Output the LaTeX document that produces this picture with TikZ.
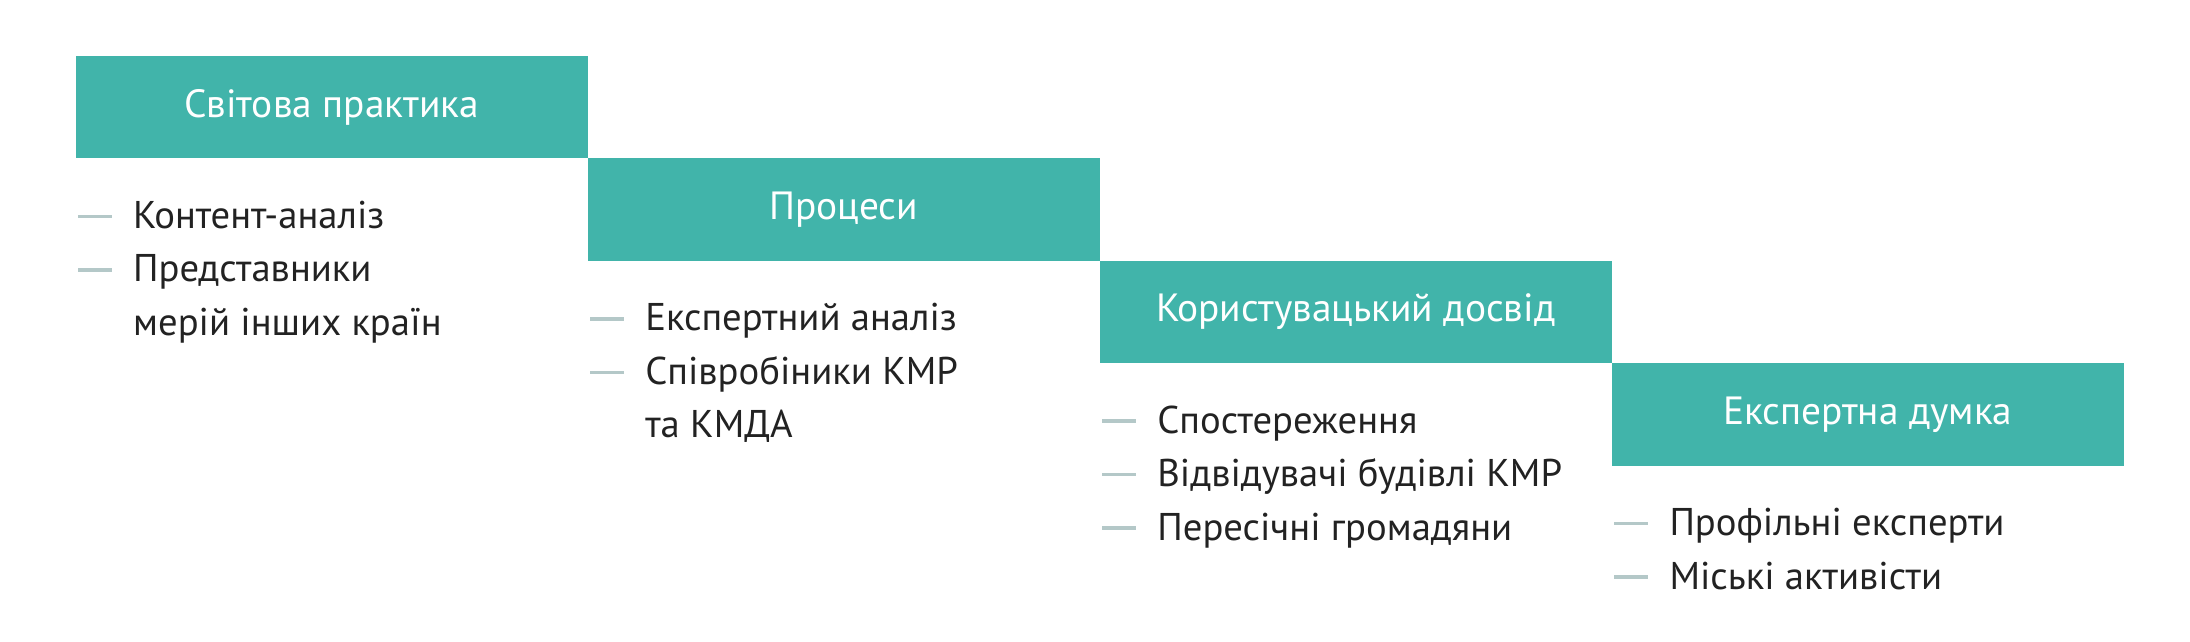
\documentclass[tikz,border=0pt]{standalone}
\usepackage{fontspec}
\setmainfont{PT Sans}
\usetikzlibrary{positioning}
\definecolor{stagegreen}{HTML}{41B4AA}
\definecolor{bargray}{HTML}{B4C8C8}
\definecolor{ink}{HTML}{222222}

\begin{document}
\begin{tikzpicture}[
	stage/.style={fill=stagegreen, text=white, minimum width=5.121cm, minimum height=1.024cm, inner sep=0pt, outer sep=0pt, anchor=north west, font=\fontsize{11.2}{13}\selectfont},
	point/.style={anchor=base west, inner sep=0pt, text=ink, font=\fontsize{11}{13}\selectfont},
	bar/.style={draw=bargray, line width=1pt}
]
	\useasboundingbox (0,0) rectangle (21.9,-6.42);
	% the four stages, going down like steps
	\node[stage] (s1) at (0.755,-0.56) {Світова практика};
	\node[stage] (s2) at (s1.south east) {Процеси};
	\node[stage] (s3) at (s2.south east) {Користувацький досвід};
	\node[stage] (s4) at (s3.south east) {Експертна думка};
	% points under each stage
	\node[point] (p11) at ([xshift=0.57cm,yshift=-0.70cm]s1.south west) {Контент-аналіз};
	\node[point] (p12) at ([yshift=-0.535cm]p11.base west) {Представники};
	\node[point] (p13) at ([yshift=-0.535cm]p12.base west) {мерій інших країн};
	\node[point] (p21) at ([xshift=0.57cm,yshift=-0.70cm]s2.south west) {Експертний аналіз};
	\node[point] (p22) at ([yshift=-0.535cm]p21.base west) {Співробіники КМР};
	\node[point] (p23) at ([yshift=-0.535cm]p22.base west) {та КМДА};
	\node[point] (p31) at ([xshift=0.57cm,yshift=-0.70cm]s3.south west) {Спостереження};
	\node[point] (p32) at ([yshift=-0.535cm]p31.base west) {Відвідувачі будівлі КМР};
	\node[point] (p33) at ([yshift=-0.535cm]p32.base west) {Пересічні громадяни};
	\node[point] (p41) at ([xshift=0.57cm,yshift=-0.70cm]s4.south west) {Профільні експерти};
	\node[point] (p42) at ([yshift=-0.535cm]p41.base west) {Міські активісти};
	\foreach \p in {p11,p12,p21,p22,p31,p32,p33,p41,p42}
		\draw[bar] ([xshift=-0.545cm,yshift=0.12cm]\p.base west) -- ++(0.34,0);
\end{tikzpicture}
\end{document}
